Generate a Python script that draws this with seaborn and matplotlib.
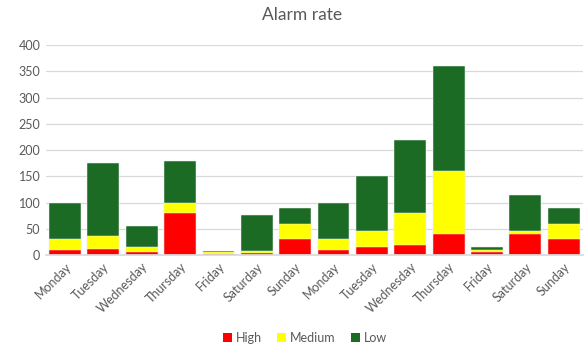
import numpy as np
import pandas as pd
import matplotlib
matplotlib.use("Agg")
import matplotlib.pyplot as plt
from matplotlib.patches import Patch
import seaborn as sns

days = ["Monday", "Tuesday", "Wednesday", "Thursday", "Friday", "Saturday", "Sunday",
        "Monday", "Tuesday", "Wednesday", "Thursday", "Friday", "Saturday", "Sunday"]
high = [10, 12, 5, 80, 2, 3, 30, 10, 15, 20, 40, 5, 40, 30]
medium = [20, 24, 10, 20, 3, 4, 30, 20, 30, 60, 120, 5, 5, 30]
low = [70, 140, 40, 80, 3, 70, 30, 70, 105, 140, 200, 5, 70, 30]

series_names = ["High", "Medium", "Low"]
colors = {"High": "#FF0000", "Medium": "#FFFF00", "Low": "#1B6B24"}

sns.set_theme(style="white")
plt.rcParams["font.family"] = ["Lato", "DejaVu Sans"]

df = pd.DataFrame({"pos": np.arange(len(days)), "High": high, "Medium": medium, "Low": low})
df["cum_high"] = df["High"]
df["cum_medium"] = df["cum_high"] + df["Medium"]
df["cum_low"] = df["cum_medium"] + df["Low"]

fig = plt.figure(figsize=(5.87, 3.47), dpi=100)
ax = fig.add_axes([0.078, 0.265, 0.915, 0.605])

for col, name in [("cum_low", "Low"), ("cum_medium", "Medium"), ("cum_high", "High")]:
    sns.barplot(data=df, x="pos", y=col, color=colors[name], saturation=1,
                width=0.83, edgecolor="#f2f2f2", linewidth=0.35, ax=ax, errorbar=None)

ax.set_ylim(0, 400)
ax.set_yticks(range(0, 401, 50))
ax.set_xlim(-0.5, len(days) - 0.5)
ax.grid(axis="y", color="#d9d9d9", linewidth=0.9)
ax.set_axisbelow(True)
for s in ["top", "right", "left"]:
    ax.spines[s].set_visible(False)
ax.spines["bottom"].set_color("#d9d9d9")
ax.set_xlabel("")
ax.set_ylabel("")
ax.set_xticks(range(len(days)))
ax.set_xticklabels(days, rotation=45, ha="right", rotation_mode="anchor")
ax.tick_params(axis="both", length=0, labelsize=9, labelcolor="#595959", pad=4)

fig.text(302 / 587, 1 - 15 / 347, "Alarm rate", ha="center", va="center",
         fontsize=12.5, color="#595959")

handles = [Patch(facecolor=colors[n], edgecolor="none", label=n) for n in series_names]
leg = fig.legend(handles=handles, loc="center", bbox_to_anchor=(305 / 587, 1 - 338 / 347),
                 ncol=3, frameon=False, fontsize=9, handlelength=0.75, handleheight=0.75,
                 handletextpad=0.3, columnspacing=1.2)
for t in leg.get_texts():
    t.set_color("#595959")

fig.savefig("out.png", dpi=100)
